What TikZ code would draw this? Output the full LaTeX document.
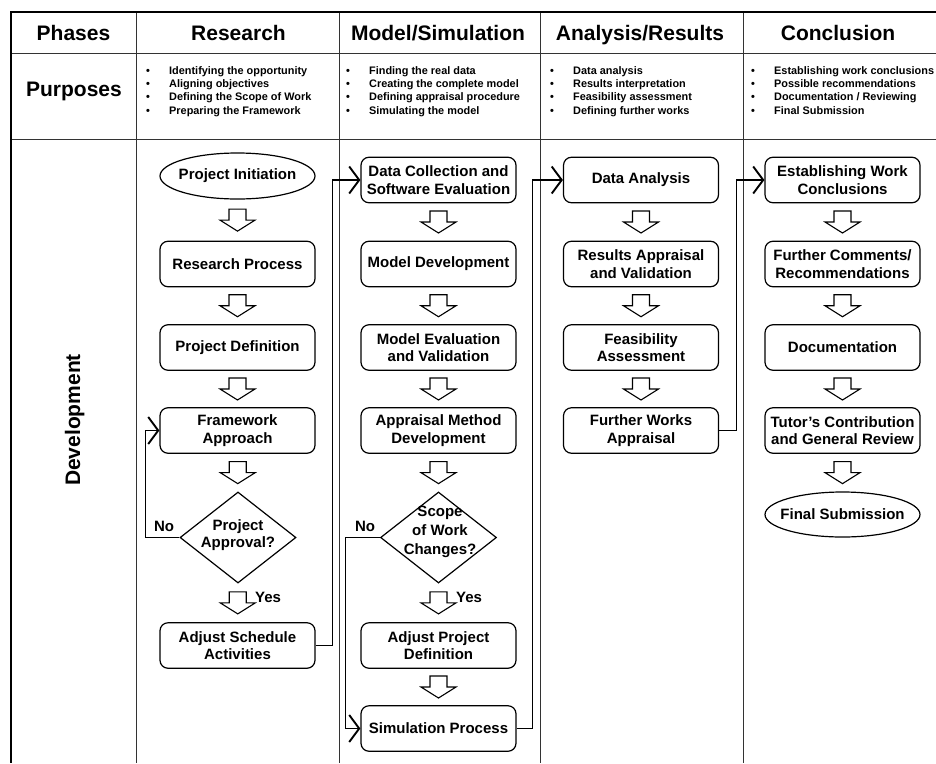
\documentclass[tikz,border=0pt]{standalone}
\usepackage{fontspec}
\setmainfont{Liberation Sans}
\usetikzlibrary{shapes.geometric,arrows.meta,calc}

\newcommand\boxfont{\fontsize{15}{17.5}\selectfont\bfseries}
\newcommand\headfont{\fontsize{21}{24}\selectfont\bfseries}
\newcommand\purpfont{\fontsize{10.9}{13.4}\selectfont\bfseries}
\newcommand\bl{\makebox[23pt][l]{•}}

% block arrow between two vertically stacked nodes
\newcommand\flowarrow[2]{%
  \draw[hollowarrow] ($(#1.south)!0.5!(#2.north)$) ++(-8.5,-11) -- ++(17,0) -- ++(0,11)
    -- ++(9,0) -- ++(-17.5,11) -- ++(-17.5,-11) -- ++(9,0) -- cycle;}

\tikzset{
  gridthin/.style={line width=0.9pt, black!80},
  gridthick/.style={line width=2.4pt, black, line join=miter},
  stage/.style={draw, line width=1.2pt, rounded corners=8pt, minimum width=155pt,
    minimum height=45.5pt, inner sep=0pt, align=center, font=\boxfont},
  terminal/.style={draw, line width=1.2pt, ellipse, minimum width=155pt,
    minimum height=46pt, inner sep=0pt},
  decision/.style={draw, line width=1.2pt, diamond, minimum width=116pt,
    minimum height=91pt, inner sep=0pt},
  hollowarrow/.style={draw, line width=1.1pt, fill=white, line join=miter},
  loopline/.style={line width=1.1pt, -{Straight Barb[length=10pt,width=27pt,line width=1.9pt]}},
  heading/.style={anchor=base, font=\headfont, inner sep=0pt},
  tag/.style={font=\boxfont, inner sep=0pt},
  purpose/.style={anchor=base west, font=\purpfont, inner sep=0pt},
}

\begin{document}
\begin{tikzpicture}[x=1pt, y=-1pt]
\useasboundingbox (0,0) rectangle (936,763);
\fill[white] (0,0) rectangle (936,763);

% table grid
\foreach \cx in {136,339,540,743} \draw[gridthin] (\cx,12) -- (\cx,763);
\draw[gridthin] (11,53) -- (936,53);
\draw[gridthin] (11,139) -- (936,139);
\draw[gridthick] (936,12) -- (11,12) -- (11,763);

% column headings
\node[heading] (hph) at (73.5,40) {Phases};
\node[heading] (hre) at (238.5,40) {Research};
\node[heading] (hmo) at (438,40) {Model/Simulation};
\node[heading] (han) at (640,40) {Analysis/Results};
\node[heading] (hco) at (838,40) {Conclusion};
\node[heading] (hpu) at (74,96) {Purposes};
\node[heading, rotate=90] (hdev) at (80,420) {Development};

% purposes of each phase
\node[purpose] (pre) at (146,74) {\begin{tabular}[t]{@{}l@{}}
  \bl Identifying the opportunity\\ \bl Aligning objectives\\
  \bl Defining the Scope of Work\\ \bl Preparing the Framework\end{tabular}};
\node[purpose] (pmo) at (346,74) {\begin{tabular}[t]{@{}l@{}}
  \bl Finding the real data\\ \bl Creating the complete model\\
  \bl Defining appraisal procedure\\ \bl Simulating the model\end{tabular}};
\node[purpose] (pan) at (550,74) {\begin{tabular}[t]{@{}l@{}}
  \bl Data analysis\\ \bl Results interpretation\\
  \bl Feasibility assessment\\ \bl Defining further works\end{tabular}};
\node[purpose] (pco) at (751,74) {\begin{tabular}[t]{@{}l@{}}
  \bl Establishing work conclusions\\ \bl Possible recommendations\\
  \bl Documentation / Reviewing\\ \bl Final Submission\end{tabular}};

% research column
\node[terminal] (init) at (237.5,176) {};
\node[tag] (inittxt) at (init) {Project Initiation};
\node[stage] (resp) at (237.5,264) {Research Process};
\node[stage] (pdef) at (237.5,347.5) {Project Definition};
\node[stage] (frame) at (237.5,430.5) {Framework\\Approach};
\node[decision] (appr) at (238,537.5) {};
\node[tag, align=center] (apprtxt) at (238,535) {Project\\Approval?};
\node[stage] (adjs) at (237.5,645.5) {Adjust Schedule\\Activities};

% model / simulation column
\node[stage] (datacol) at (438.5,180) {Data Collection and\\Software Evaluation};
\node[stage] (mdev) at (438.5,264) {Model Development};
\node[stage] (meval) at (438.5,347.5) {Model Evaluation\\and Validation};
\node[stage] (amd) at (438.5,430.5) {Appraisal Method\\Development};
\node[decision] (scope) at (438.5,537.5) {};
\node[tag, align=center, font=\fontsize{15}{19}\selectfont\bfseries] (scopetxt) at (440,532) {Scope\\of Work\\Changes?};
\node[stage] (apd) at (438.5,645.5) {Adjust Project\\Definition};
\node[stage] (sim) at (438.5,728.5) {Simulation Process};

% analysis / results column
\node[stage] (dana) at (641,180) {Data Analysis};
\node[stage] (rav) at (641,264) {Results Appraisal\\and Validation};
\node[stage] (feas) at (641,347.5) {Feasibility\\Assessment};
\node[stage] (fwa) at (641,430.5) {Further Works\\Appraisal};

% conclusion column
\node[stage] (estab) at (842.5,180) {Establishing Work\\Conclusions};
\node[stage] (fcr) at (842.5,264) {Further Comments/\\Recommendations};
\node[stage] (doc) at (842.5,347.5) {Documentation};
\node[stage] (tutor) at (842.5,430.5) {Tutor's Contribution\\and General Review};
\node[terminal, minimum height=45pt] (final) at (842.5,514.5) {};
\node[tag] (finaltxt) at (final) {Final Submission};

% block arrows
\flowarrow{init}{resp}
\flowarrow{resp}{pdef}
\flowarrow{pdef}{frame}
\flowarrow{frame}{appr}
\flowarrow{appr}{adjs}
\flowarrow{datacol}{mdev}
\flowarrow{mdev}{meval}
\flowarrow{meval}{amd}
\flowarrow{amd}{scope}
\flowarrow{scope}{apd}
\flowarrow{apd}{sim}
\flowarrow{dana}{rav}
\flowarrow{rav}{feas}
\flowarrow{feas}{fwa}
\flowarrow{estab}{fcr}
\flowarrow{fcr}{doc}
\flowarrow{doc}{tutor}
\flowarrow{tutor}{final}

% decision labels
\node[tag] (no1) at (164,526) {No};
\node[tag] (yes1) at (268,597) {Yes};
\node[tag] (no2) at (365,526) {No};
\node[tag] (yes2) at (469,597) {Yes};

% loop-back and hand-over connectors
\draw[loopline] (appr.west) -- ++(-34,0) |- (frame.west);
\draw[loopline] (adjs.east) -- ++(17,0) |- (datacol.west);
\draw[loopline] (scope.west) -- ++(-34,0) |- (sim.west);
\draw[loopline] (sim.east) -- ++(16,0) |- (dana.west);
\draw[loopline] (fwa.east) -- ++(17,0) |- (estab.west);
\end{tikzpicture}
\end{document}
